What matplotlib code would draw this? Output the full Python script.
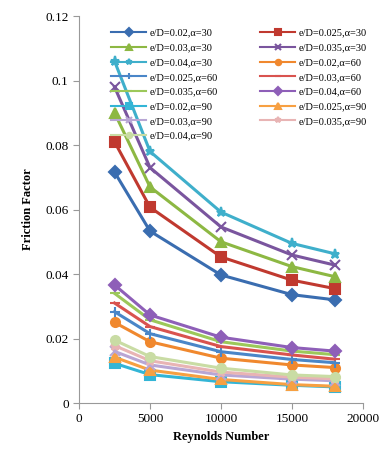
import numpy as np
import matplotlib
matplotlib.use("Agg")
import matplotlib.pyplot as plt

plt.rcParams['font.family'] = ['Liberation Serif', 'DejaVu Serif']

# Reynolds numbers
reynolds = [2500, 5000, 10000, 15000, 18000]

# friction factor per case
labels = ['e/D=0.02,α=30', 'e/D=0.025,α=30', 'e/D=0.03,α=30', 'e/D=0.035,α=30', 'e/D=0.04,α=30',
          'e/D=0.02,α=60', 'e/D=0.025,α=60', 'e/D=0.03,α=60', 'e/D=0.035,α=60', 'e/D=0.04,α=60',
          'e/D=0.02,α=90', 'e/D=0.025,α=90', 'e/D=0.03,α=90', 'e/D=0.035,α=90', 'e/D=0.04,α=90']

f_a30_002 = [0.0716, 0.0533, 0.0397, 0.0336, 0.0320]
f_a30_0025 = [0.0810, 0.0607, 0.0453, 0.0381, 0.0355]
f_a30_003 = [0.0900, 0.0670, 0.0500, 0.0423, 0.0392]
f_a30_0035 = [0.0980, 0.0730, 0.0546, 0.0459, 0.0428]
f_a30_004 = [0.1060, 0.0780, 0.0592, 0.0495, 0.0463]
f_a60_002 = [0.0250, 0.0190, 0.0139, 0.0118, 0.0110]
f_a60_0025 = [0.0283, 0.0215, 0.0159, 0.0135, 0.0125]
f_a60_003 = [0.0310, 0.0237, 0.0175, 0.0149, 0.0136]
f_a60_0035 = [0.0340, 0.0258, 0.0190, 0.0161, 0.0150]
f_a60_004 = [0.0366, 0.0273, 0.0204, 0.0172, 0.0161]
f_a90_002 = [0.0123, 0.0088, 0.0066, 0.0055, 0.0050]
f_a90_0025 = [0.0142, 0.0102, 0.0073, 0.0057, 0.0052]
f_a90_003 = [0.0160, 0.0118, 0.0087, 0.0074, 0.0069]
f_a90_0035 = [0.0178, 0.0131, 0.0096, 0.0080, 0.0075]
f_a90_004 = [0.0195, 0.0144, 0.0108, 0.0087, 0.0082]

series = [f_a30_002, f_a30_0025, f_a30_003, f_a30_0035, f_a30_004,
          f_a60_002, f_a60_0025, f_a60_003, f_a60_0035, f_a60_004,
          f_a90_002, f_a90_0025, f_a90_003, f_a90_0035, f_a90_004]

colors = ['#3A6DB0', '#C0392F', '#8DB843', '#7A559E', '#3FAFCB',
          '#F0882E', '#4A86C8', '#D9534F', '#9CC85A', '#8E5FB8',
          '#33B5D6', '#F7A042', '#B8A6D4', '#E8B4B4', '#C9DCA4']
markers = ['D', 's', '^', 'x', '*', 'o', '+', '_', '_', 'D',
           's', '^', 'x', '*', 'o']

fig = plt.figure(figsize=(3.82, 4.59), dpi=100)
ax = fig.add_axes([0.207, 0.122, 0.743, 0.843])

handles = []
for y, lab, c, m in zip(series, labels, colors, markers):
    h, = ax.plot(reynolds, y, color=c, lw=2.2, marker=m, ms=6.5, mew=1.5,
                 label=lab)
    handles.append(h)

ax.set_xlim(0, 20000)
ax.set_ylim(0, 0.12)
ax.set_xticks([0, 5000, 10000, 15000, 20000])
ax.set_yticks([0, 0.02, 0.04, 0.06, 0.08, 0.1, 0.12])
ax.set_yticklabels(['0', '0.02', '0.04', '0.06', '0.08', '0.1', '0.12'])
ax.tick_params(labelsize=9.5, color='#999999', length=4)
for s in ['top', 'right']:
    ax.spines[s].set_visible(False)
for s in ['left', 'bottom']:
    ax.spines[s].set_color('#999999')

ax.set_xlabel('Reynolds Number', fontsize=9, fontweight='bold')
ax.set_ylabel('Friction Factor', fontsize=9, fontweight='bold', labelpad=8)

# Excel fills the legend row by row, matplotlib column by column
order = list(range(0, 15, 2)) + list(range(1, 15, 2))
leg = ax.legend([handles[i] for i in order], [labels[i] for i in order],
                ncol=2, frameon=False, fontsize=7.5, loc='upper left',
                bbox_to_anchor=(0.112, 0.968), borderpad=0, borderaxespad=0,
                handlelength=3.4, markerscale=0.6,
                columnspacing=4.0, labelspacing=0.52, handletextpad=0.35)
for lh in leg.legend_handles:
    lh.set_linewidth(1.5)

fig.savefig('out.png', dpi=100)
